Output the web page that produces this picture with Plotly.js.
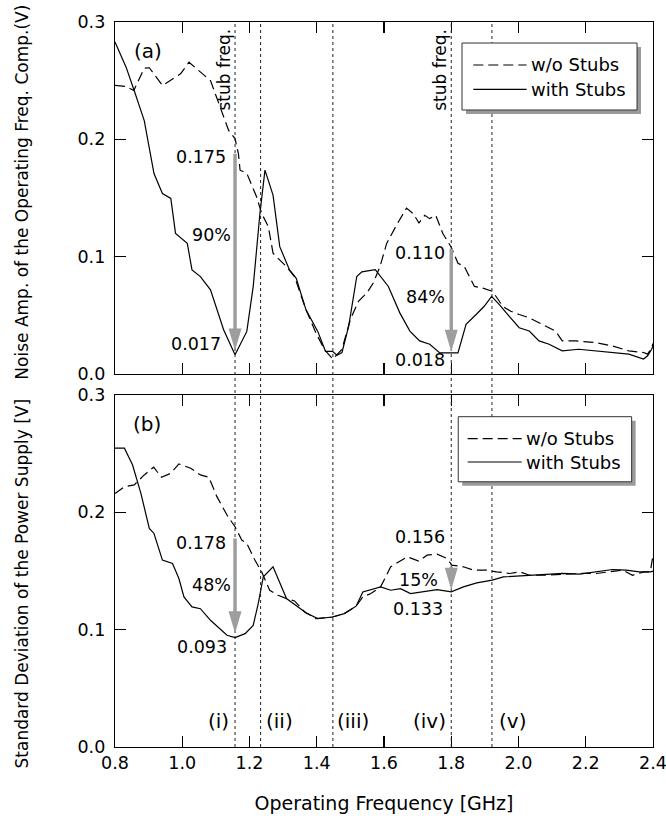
<!DOCTYPE html>
<html>
<head>
<meta charset="utf-8">
<script src="https://cdn.plot.ly/plotly-3.0.1.min.js"></script>
<style>html,body{margin:0;padding:0;background:#fff;}#chart{width:666px;height:816px;}</style>
</head>
<body>
<div id="chart"></div>
<script>
// ---------- data: panel (a) noise amplitude of operating frequency component [V] ----------
const freqA_wo = [0.80,0.833,0.856,0.887,0.902,0.941,0.995,1.020,1.084,1.113,1.138,1.157,1.167,1.172,1.192,1.221,1.236,1.256,1.270,1.280,1.310,1.334,1.368,1.398,1.423,1.448,1.462,1.475,1.500,1.524,1.549,1.568,1.588,1.608,1.637,1.667,1.687,1.704,1.721,1.736,1.754,1.775,1.800,1.820,1.839,1.869,1.894,1.923,1.953,1.977,2.002,2.032,2.071,2.110,2.130,2.169,2.229,2.279,2.328,2.372,2.384,2.396,2.400];
const ampA_wo  = [0.246,0.245,0.2416,0.2606,0.261,0.2459,0.2558,0.2657,0.250,0.2275,0.2076,0.2006,0.1878,0.1737,0.171,0.151,0.137,0.1255,0.103,0.100,0.0915,0.083,0.0547,0.0348,0.0207,0.0127,0.0175,0.0211,0.0465,0.062,0.069,0.0775,0.0915,0.1113,0.1268,0.1414,0.1366,0.1287,0.1352,0.1324,0.1352,0.1197,0.108,0.0944,0.0915,0.0746,0.0732,0.0704,0.0577,0.0535,0.0507,0.0479,0.0423,0.0366,0.0282,0.0282,0.0268,0.0239,0.0197,0.0183,0.0169,0.0225,0.026];
const freqA_with = [0.80,0.833,0.857,0.887,0.916,0.941,0.966,0.980,1.015,1.029,1.054,1.084,1.123,1.143,1.157,1.192,1.211,1.231,1.246,1.270,1.290,1.319,1.339,1.368,1.403,1.426,1.447,1.460,1.475,1.495,1.519,1.534,1.554,1.574,1.613,1.647,1.677,1.706,1.736,1.766,1.820,1.844,1.874,1.898,1.920,1.943,1.972,2.002,2.032,2.061,2.091,2.130,2.179,2.229,2.279,2.328,2.372,2.384,2.396,2.400];
const ampA_with  = [0.283,0.2615,0.2416,0.216,0.1708,0.1538,0.1496,0.1198,0.1113,0.0887,0.083,0.0717,0.0377,0.025,0.0164,0.0363,0.0745,0.1368,0.1737,0.1524,0.1085,0.0887,0.0816,0.0547,0.0363,0.0193,0.0193,0.016,0.0183,0.0408,0.0831,0.087,0.088,0.089,0.0746,0.0521,0.0366,0.0282,0.0254,0.018,0.018,0.0423,0.0507,0.0577,0.0662,0.0592,0.0493,0.0394,0.0366,0.0282,0.0254,0.0197,0.0211,0.0197,0.0183,0.0169,0.0127,0.0155,0.0211,0.024];

// ---------- data: panel (b) standard deviation of the power supply [V] ----------
const freqB_wo = [0.80,0.828,0.857,0.887,0.915,0.938,0.966,0.990,1.025,1.054,1.079,1.103,1.133,1.157,1.177,1.192,1.216,1.236,1.260,1.285,1.310,1.334,1.364,1.398,1.447,1.482,1.517,1.537,1.561,1.590,1.620,1.644,1.669,1.703,1.728,1.758,1.787,1.802,1.836,1.866,1.905,1.935,1.974,2.004,2.033,2.073,2.132,2.191,2.231,2.270,2.310,2.339,2.374,2.392,2.400];
const sdB_wo   = [0.216,0.2219,0.2234,0.2319,0.2385,0.2299,0.2333,0.2413,0.2376,0.2319,0.2299,0.2134,0.1977,0.1877,0.1764,0.1735,0.1593,0.1493,0.1336,0.1293,0.1265,0.1245,0.1151,0.1094,0.1108,0.1137,0.1200,0.128,0.1308,0.1365,0.1536,0.1578,0.1621,0.1584,0.1635,0.1644,0.1607,0.155,0.1536,0.1507,0.1507,0.1493,0.1479,0.1493,0.1464,0.1464,0.1473,0.1479,0.1479,0.1493,0.1507,0.1464,0.1493,0.1493,0.1635];
const freqB_with = [0.80,0.828,0.852,0.877,0.902,0.916,0.941,0.971,0.990,1.005,1.029,1.054,1.084,1.113,1.133,1.157,1.187,1.211,1.226,1.241,1.270,1.310,1.339,1.369,1.403,1.447,1.482,1.517,1.537,1.561,1.590,1.620,1.649,1.679,1.718,1.758,1.800,1.836,1.876,1.922,1.955,1.994,2.033,2.083,2.132,2.181,2.231,2.280,2.320,2.359,2.393,2.400];
const sdB_with   = [0.2547,0.2547,0.2405,0.2162,0.1863,0.182,0.1593,0.1564,0.1436,0.1279,0.1194,0.1179,0.108,0.1009,0.0952,0.0932,0.0966,0.1037,0.1222,0.145,0.1536,0.1265,0.1208,0.1142,0.1094,0.1108,0.1137,0.12,0.1322,0.1342,0.1365,0.1336,0.135,0.1308,0.1322,0.1342,0.1322,0.1365,0.1399,0.1422,0.145,0.1456,0.1464,0.147,0.1479,0.1473,0.1493,0.1513,0.1507,0.1493,0.1493,0.15];

// ---------- marker lines, arrows, labels ----------
const seriesNames = ['w/o Stubs', 'with Stubs'];
const markerFreqs = [1.157, 1.233, 1.448, 1.800, 1.921];
const regionLabels = ['(i)', '(ii)', '(iii)', '(iv)', '(v)'];
const stubFreqs = [1.157, 1.800];
const arrowA_from = [0.189, 0.108];
const arrowA_to   = [0.020, 0.019];
const arrowB_from = [0.179, 0.155];
const arrowB_to   = [0.097, 0.134];
const labelsA = ['0.175', '90%', '0.017', '0.110', '84%', '0.018'];
const labelsB = ['0.178', '48%', '0.093', '0.156', '15%', '0.133'];
const xTicks = [0.8, 1.0, 1.2, 1.4, 1.6, 1.8, 2.0, 2.2, 2.4];
const yTicks = [0.0, 0.1, 0.2, 0.3];

const FONT = 'DejaVu Sans, Liberation Sans, Arial, sans-serif';
const ARROW_COLOR = '#9e9e9e';

const traces = [
  {x: freqA_wo, y: ampA_wo, xaxis: 'x', yaxis: 'y', name: seriesNames[0], mode: 'lines',
   line: {color: '#000', width: 1.2, dash: '10px,5px'}, showlegend: false},
  {x: freqA_with, y: ampA_with, xaxis: 'x', yaxis: 'y', name: seriesNames[1], mode: 'lines',
   line: {color: '#000', width: 1.2}, showlegend: false},
  {x: freqB_wo, y: sdB_wo, xaxis: 'x2', yaxis: 'y2', name: seriesNames[0], mode: 'lines',
   line: {color: '#000', width: 1.2, dash: '10px,5px'}, showlegend: false},
  {x: freqB_with, y: sdB_with, xaxis: 'x2', yaxis: 'y2', name: seriesNames[1], mode: 'lines',
   line: {color: '#000', width: 1.2}, showlegend: false}
];

const shapes = [];
const annotations = [];

// dotted vertical lines across both panels
markerFreqs.forEach(f => {
  shapes.push({type: 'line', xref: 'x', yref: 'paper', x0: f, x1: f, y0: 0, y1: 1,
    line: {color: '#222', width: 1, dash: '3px,3px'}});
});

// arrows
function addArrow(xr, yr, f, from, to) {
  annotations.push({xref: xr, yref: yr, axref: xr, ayref: yr, x: f, y: to, ax: f, ay: from,
    text: '', showarrow: true, arrowhead: 0, arrowwidth: 3.5, arrowcolor: ARROW_COLOR, standoff: 20});
  shapes.push({type: 'path', xref: xr, yref: yr, xsizemode: 'pixel', ysizemode: 'pixel',
    xanchor: f, yanchor: to, path: 'M-6.5,22L6.5,22L0,0Z',
    fillcolor: ARROW_COLOR, line: {width: 0}});
}
stubFreqs.forEach((f, i) => addArrow('x', 'y', f, arrowA_from[i], arrowA_to[i]));
stubFreqs.forEach((f, i) => addArrow('x2', 'y2', f, arrowB_from[i], arrowB_to[i]));

function txt(xr, yr, x, y, text, size, xanchor, extra) {
  annotations.push(Object.assign({xref: xr, yref: yr, x: x, y: y, text: text, showarrow: false,
    xanchor: xanchor || 'center', yanchor: 'middle', font: {family: FONT, size: size, color: '#000'}}, extra || {}));
}

// panel labels
txt('x', 'y', 0.8996, 0.275, '(a)', 20);
txt('x2', 'y2', 0.894, 0.275, '(b)', 20);

// stub freq labels
stubFreqs.forEach(f => txt('x', 'y', f, 0.2595, 'stub freq.', 17, 'right', {textangle: -90}));

// value labels panel (a)
const posA = [[1.137, 0.185], [1.152, 0.1185], [1.122, 0.0256], [1.787, 0.103], [1.787, 0.066], [1.787, 0.012]];
labelsA.forEach((t, i) => txt('x', 'y', posA[i][0], posA[i][1], t, 17.5, 'right'));
// value labels panel (b)
const posB = [[1.137, 0.1736], [1.152, 0.138], [1.139, 0.0855], [1.787, 0.1786], [1.767, 0.1423], [1.781, 0.118]];
labelsB.forEach((t, i) => txt('x2', 'y2', posB[i][0], posB[i][1], t, 17.5, 'right'));

// region labels
const regionAnchor = ['right', 'left', 'left', 'right', 'left'];
const regionX = [1.145, 1.244, 1.454, 1.791, 1.935];
regionLabels.forEach((t, i) => txt('x2', 'y2', regionX[i], 0.0222, t, 20, regionAnchor[i]));

// y titles (one per panel)
txt('paper', 'paper', -0.1729, 0.766, 'Noise Amp. of the Operating Freq. Comp.(V)', 17, 'center', {textangle: -90});
txt('paper', 'paper', -0.1729, 0.2255, 'Standard Deviation of the Power Supply [V]', 17, 'center', {textangle: -90});

// custom legends
function addLegend(x0, x1, y0, y1, lx0, lx1, ly1, ly2, tx) {
  shapes.push({type: 'rect', xref: 'paper', yref: 'paper', x0: x0 + 0.0074, x1: x1 + 0.0074, y0: y0 - 0.0055, y1: y1 - 0.0055,
    fillcolor: '#9a9a9a', line: {width: 0}});
  shapes.push({type: 'rect', xref: 'paper', yref: 'paper', x0: x0, x1: x1, y0: y0, y1: y1,
    fillcolor: '#fff', line: {color: '#333', width: 1}});
  shapes.push({type: 'line', xref: 'paper', yref: 'paper', x0: lx0, x1: lx1, y0: ly1, y1: ly1,
    line: {color: '#000', width: 1.2, dash: '10px,5px'}});
  shapes.push({type: 'line', xref: 'paper', yref: 'paper', x0: lx0, x1: lx1, y0: ly2, y1: ly2,
    line: {color: '#000', width: 1.2}});
  txt('paper', 'paper', tx, ly1, seriesNames[0], 18, 'left');
  txt('paper', 'paper', tx, ly2, seriesNames[1], 18, 'left');
}
addLegend(0.6450, 0.9703, 0.8786, 0.9710, 0.6660, 0.7651, 0.9407, 0.9072, 0.7700);
addLegend(0.6380, 0.9603, 0.3658, 0.4556, 0.6555, 0.7559, 0.4254, 0.3931, 0.7600);

const axisCommon = {
  showline: true, linecolor: '#000', linewidth: 1.2, mirror: 'ticks',
  ticks: 'inside', ticklen: 11, tickwidth: 1.2, tickcolor: '#000',
  showgrid: false, zeroline: false, fixedrange: true,
  tickfont: {family: FONT, size: 17.5, color: '#000'}
};

const layout = {
  width: 666, height: 816,
  margin: {l: 115, r: 13, t: 22, b: 69},
  paper_bgcolor: '#fff', plot_bgcolor: '#fff',
  showlegend: false,
  font: {family: FONT, color: '#000'},
  xaxis: Object.assign({}, axisCommon, {anchor: 'y', range: [0.8, 2.4], tickvals: xTicks, showticklabels: false, matches: 'x2'}),
  yaxis: Object.assign({}, axisCommon, {domain: [0.5145, 1], range: [0, 0.3], tickvals: yTicks, tickformat: '.1f', ticklabelstandoff: 5}),
  xaxis2: Object.assign({}, axisCommon, {anchor: 'y2', range: [0.8, 2.4], tickvals: xTicks, tickformat: '.1f',
    ticklabeloverflow: 'allow',
    title: {text: 'Operating Frequency [GHz]', font: {family: FONT, size: 19, color: '#000'}, standoff: 24}}),
  yaxis2: Object.assign({}, axisCommon, {domain: [0, 0.4855], range: [0, 0.3], tickvals: yTicks, tickformat: '.1f', ticklabelstandoff: 5}),
  shapes: shapes,
  annotations: annotations
};

Plotly.newPlot('chart', traces, layout, {displayModeBar: false, staticPlot: true});
</script>
</body>
</html>
